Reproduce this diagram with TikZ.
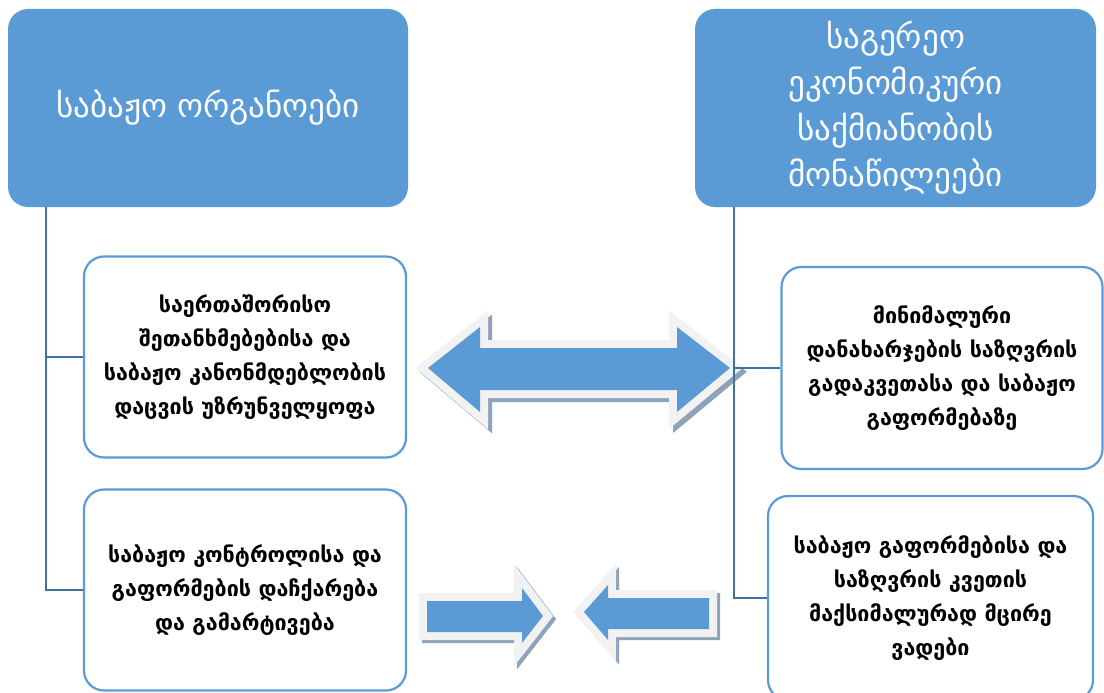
\documentclass[tikz,border=0pt]{standalone}
\usepackage{fontspec}
\setmainfont{DejaVu Sans}
\definecolor{hdr}{HTML}{5B9BD5}
\definecolor{lnk}{HTML}{41719C}
\definecolor{outl}{HTML}{F2F2F2}
\definecolor{shad}{HTML}{8DA3BA}
\tikzset{
  headbox/.style={draw=none, fill=hdr, rounded corners=20pt, text=white, align=center,
    font=\fontsize{33}{46}\selectfont, inner sep=0pt},
  bodybox/.style={draw=hdr, line width=2.2pt, fill=white, rounded corners=20pt, align=center,
    font=\bfseries\fontsize{21.5}{34}\selectfont, inner sep=0pt},
  link/.style={draw=lnk, line width=2pt},
  arrshadow/.style={draw=shad, fill=shad, line width=16pt, line join=miter},
  arroutline/.style={draw=outl, line width=16pt, line join=miter},
  arrfill/.style={fill=hdr},
}
\begin{document}
\begin{tikzpicture}[x=1pt,y=-1pt]
\path[use as bounding box] (0,0) rectangle (1104,693);
\clip (0,0) rectangle (1104,693);
\fill[white] (0,0) rectangle (1104,693);

% boxes
\node[headbox, minimum width=400pt, minimum height=198pt] (TL) at (208,108) {საბაჟო ორგანოები};
\node[headbox, minimum width=401pt, minimum height=198pt] (TR) at (895.5,108) {საგერეო\\ეკონომიკური\\საქმიანობის\\მონაწილეები};

\node[bodybox, minimum width=322pt, minimum height=201pt] (ML) at (245,357) {საერთაშორისო\\შეთანხმებებისა და\\საბაჟო კანონმდებლობის\\დაცვის უზრუნველყოფა};
\node[bodybox, minimum width=321pt, minimum height=202pt] (MR) at (942,368) {მინიმალური\\დანახარჯების საზღვრის\\გადაკვეთასა და საბაჟო\\გაფორმებაზე};
\node[bodybox, minimum width=322pt, minimum height=201pt] (BL) at (245,590) {საბაჟო კონტროლისა და\\გაფორმების დაჩქარება\\და გამარტივება};
\node[bodybox, minimum width=325pt, minimum height=204pt] (BR) at (930.5,598) {საბაჟო გაფორმებისა და\\საზღვრის კვეთის\\მაქსიმალურად მცირე\\ვადები};

% big double arrow
\def\dblarrow{(428,368) -- (480,327) -- (480,348) -- (677,348) -- (677,327) -- (730,368) -- (677,412) -- (677,390) -- (480,390) -- (480,412) -- cycle}
\begin{scope}[shift={(4,4)}]
\path[arrshadow] \dblarrow;
\end{scope}
\path[arroutline] \dblarrow;
\path[arrfill] \dblarrow;

% bottom arrows
\def\rarrow{(427,601) -- (522,601) -- (522,588) -- (543,616) -- (522,643) -- (522,632) -- (427,632) -- cycle}
\def\larrow{(584,612) -- (608,585) -- (608,598) -- (709,598) -- (709,629) -- (608,629) -- (608,640) -- cycle}
\begin{scope}[shift={(3,3)}]
\path[arrshadow] \rarrow;
\path[arrshadow] \larrow;
\end{scope}
\path[arroutline] \rarrow;
\path[arroutline] \larrow;
\path[arrfill] \rarrow;
\path[arrfill] \larrow;

% connectors
\coordinate (lv) at (46,590);
\coordinate (rv) at (734,598);
\draw[link] (TL.south -| lv) |- (BL.west);
\draw[link] (ML.west) -- (ML.west -| lv);
\draw[link] (TR.south -| rv) |- (BR.west);
\draw[link] (MR.west) -- (MR.west -| rv);
\end{tikzpicture}
\end{document}
